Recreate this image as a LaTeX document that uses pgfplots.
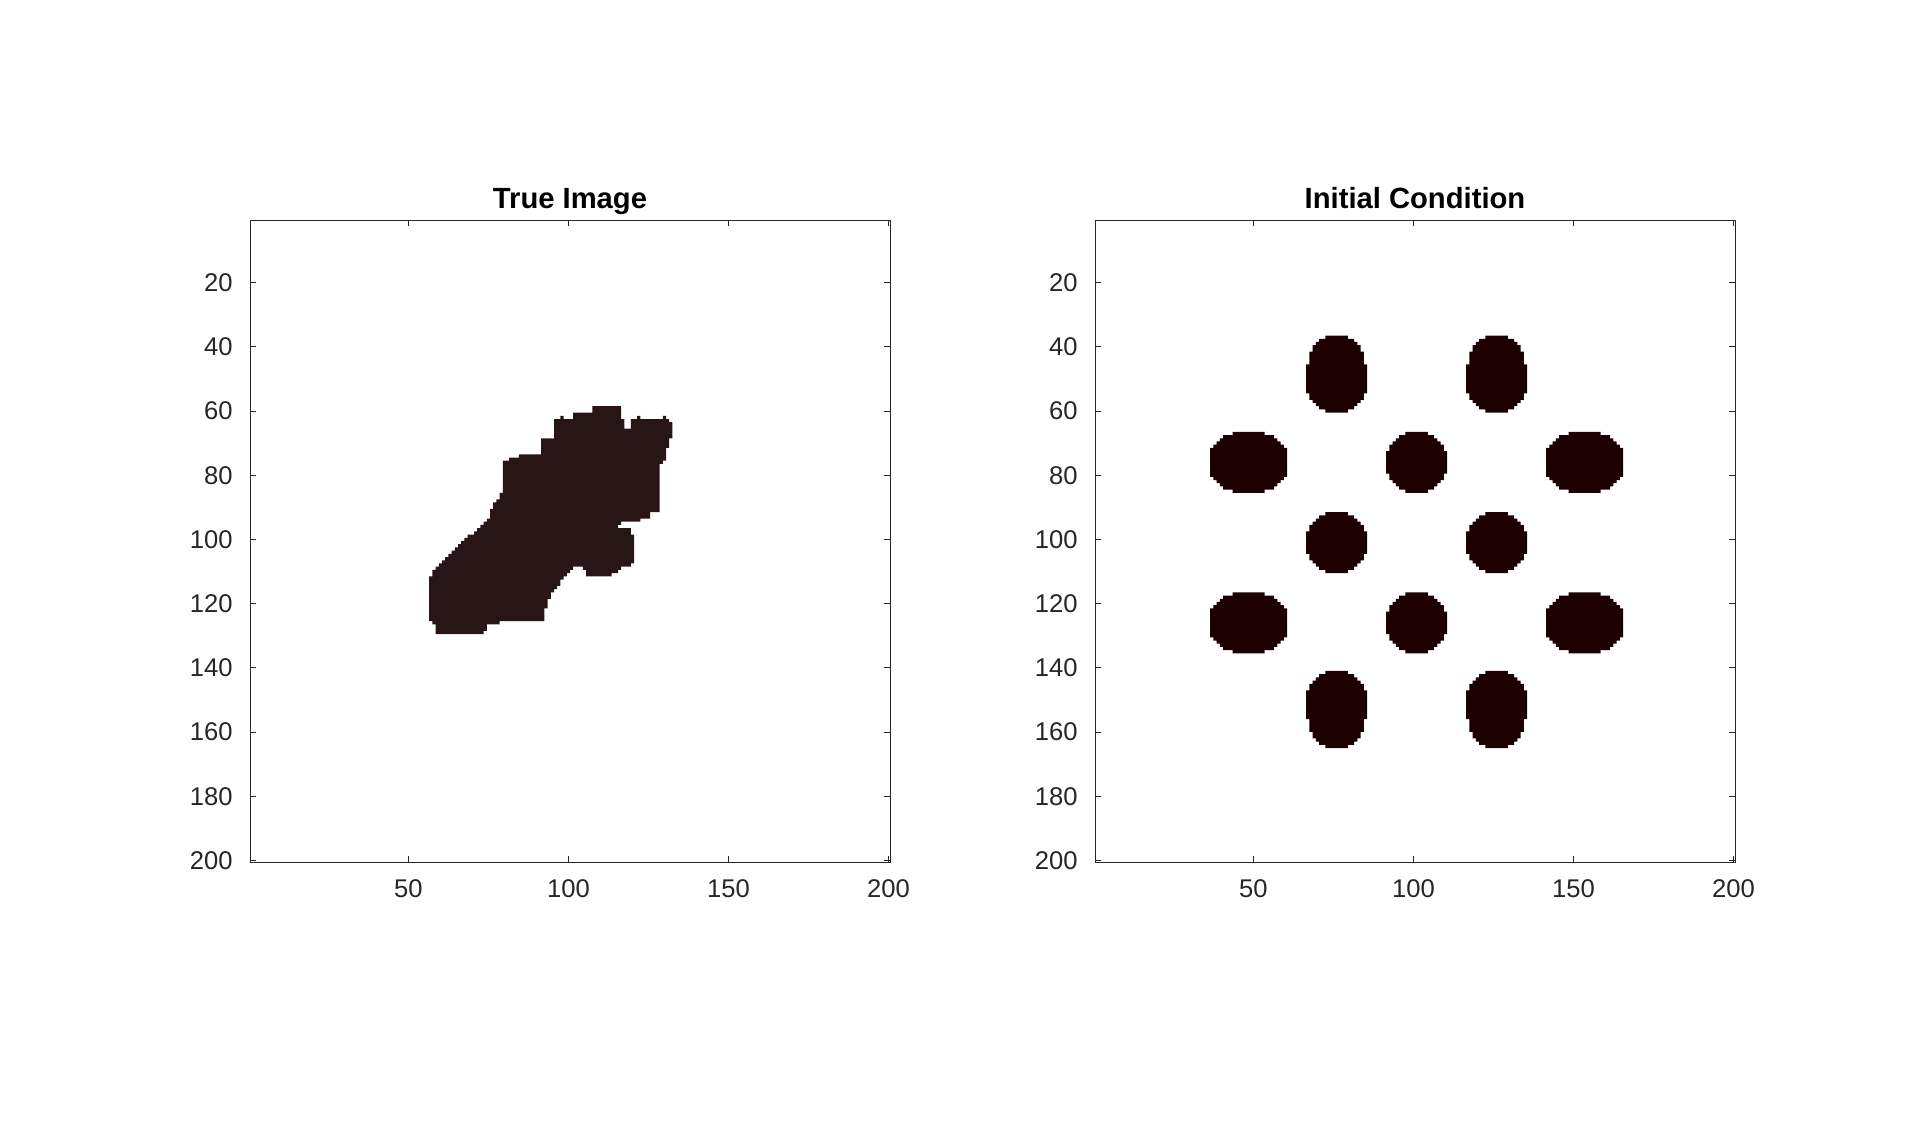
\documentclass[border=0pt]{standalone}
\usepackage{pgfplots}
\pgfplotsset{compat=1.18}
\usepackage{fontspec}
\setmainfont{Liberation Sans}
\definecolor{imgdark}{RGB}{29,0,0}
\definecolor{blobc}{RGB}{40,22,22}
\definecolor{axgray}{RGB}{38,38,38}
\pgfplotsset{imgax/.style={
  scale only axis, width=160pt, height=160.5pt,
  xmin=0.5, xmax=200.5, ymin=0.5, ymax=200.5, y dir=reverse,
  xtick={50,100,150,200}, ytick={20,40,...,200},
  tick align=inside, xtick pos=both, ytick pos=both,
  xticklabel pos=lower, yticklabel pos=left,
  major tick length=1.6pt,
  axis line style={axgray, line width=0.22pt},
  tick style={axgray, line width=0.22pt},
  ticklabel style={font=\fontsize{6.4}{7}\selectfont, text=axgray},
  xticklabel style={yshift=-0.9pt},
  yticklabel style={xshift=-0.8pt},
  /pgf/number format/assume math mode=true,
  title style={font=\bfseries\fontsize{7.3}{8}\selectfont, at={(0.5,1)}, anchor=base, yshift=-3.1pt},
}}
\begin{document}
\begin{tikzpicture}
\useasboundingbox (0,0) rectangle (480pt,280.75pt);
\begin{axis}[imgax, at={(62.5pt,65.25pt)}, anchor=south west, title={True Image}]
\addplot[fill=blobc, draw=none] coordinates {
(107.5,58.5)(116.5,58.5)(116.5,62.5)(117.5,62.5)(117.5,65.5)(119.5,65.5)(119.5,62.5)
(121.5,62.5)(121.5,61.5)(122.5,61.5)(122.5,62.5)(129.5,62.5)(129.5,61.5)(130.5,61.5)(130.5,62.5)
(131.5,62.5)(131.5,63.5)(132.5,63.5)(132.5,68.5)(131.5,68.5)(131.5,71.5)(130.5,71.5)(130.5,75.5)
(129.5,75.5)(129.5,76.5)(128.5,76.5)(128.5,91.5)(125.5,91.5)(125.5,93.5)(122.5,93.5)(122.5,94.5)
(116.5,94.5)(116.5,95.5)(115.5,95.5)(115.5,96.5)(119.5,96.5)(119.5,98.5)(120.5,98.5)(120.5,107.5)
(119.5,107.5)(119.5,108.5)(116.5,108.5)(116.5,109.5)(115.5,109.5)(115.5,110.5)(113.5,110.5)(113.5,111.5)
(105.5,111.5)(105.5,109.5)(104.5,109.5)(104.5,108.5)(101.5,108.5)(101.5,109.5)(100.5,109.5)(100.5,110.5)
(99.5,110.5)(99.5,111.5)(98.5,111.5)(98.5,112.5)(97.5,112.5)(97.5,114.5)(96.5,114.5)(96.5,115.5)
(95.5,115.5)(95.5,116.5)(94.5,116.5)(94.5,118.5)(93.5,118.5)(93.5,121.5)(92.5,121.5)(92.5,125.5)
(78.5,125.5)(78.5,126.5)(74.5,126.5)(74.5,128.5)(73.5,128.5)(73.5,129.5)(58.5,129.5)(58.5,126.5)
(57.5,126.5)(57.5,125.5)(56.5,125.5)(56.5,111.5)(57.5,111.5)(57.5,109.5)(58.5,109.5)(58.5,108.5)
(59.5,108.5)(59.5,107.5)(60.5,107.5)(60.5,106.5)(61.5,106.5)(61.5,105.5)(62.5,105.5)(62.5,104.5)
(63.5,104.5)(63.5,103.5)(64.5,103.5)(64.5,102.5)(65.5,102.5)(65.5,101.5)(66.5,101.5)(66.5,100.5)
(67.5,100.5)(67.5,99.5)(68.5,99.5)(68.5,98.5)(70.5,98.5)(70.5,97.5)(71.5,97.5)(71.5,96.5)
(72.5,96.5)(72.5,95.5)(73.5,95.5)(73.5,94.5)(74.5,94.5)(74.5,93.5)(75.5,93.5)(75.5,90.5)
(76.5,90.5)(76.5,88.5)(77.5,88.5)(77.5,87.5)(78.5,87.5)(78.5,85.5)(79.5,85.5)(79.5,75.5)
(81.5,75.5)(81.5,74.5)(84.5,74.5)(84.5,73.5)(91.5,73.5)(91.5,68.5)(95.5,68.5)(95.5,62.5)
(97.5,62.5)(97.5,61.5)(98.5,61.5)(98.5,62.5)(101.5,62.5)(101.5,60.5)(107.5,60.5)
} -- cycle;
\end{axis}
\begin{axis}[imgax, at={(273.75pt,65.25pt)}, anchor=south west, title={Initial Condition}]
% top eggs
\addplot[fill=imgdark, draw=none] coordinates {
(79.5,36.5)(79.5,37.5)(81.5,37.5)(81.5,38.5)(82.5,38.5)(82.5,39.5)(83.5,39.5)(83.5,41.5)(84.5,41.5)(84.5,45.5)(85.5,45.5)(85.5,54.5)(84.5,54.5)(84.5,56.5)(83.5,56.5)(83.5,57.5)(82.5,57.5)(82.5,58.5)(81.5,58.5)(81.5,59.5)(79.5,59.5)(79.5,60.5)(72.5,60.5)(72.5,59.5)(70.5,59.5)(70.5,58.5)(69.5,58.5)(69.5,57.5)(68.5,57.5)(68.5,56.5)(67.5,56.5)(67.5,54.5)(66.5,54.5)(66.5,45.5)(67.5,45.5)(67.5,41.5)(68.5,41.5)(68.5,39.5)(69.5,39.5)(69.5,38.5)(70.5,38.5)(70.5,37.5)(72.5,37.5)(72.5,36.5)
} -- cycle;
\addplot[fill=imgdark, draw=none] coordinates {
(129.5,36.5)(129.5,37.5)(131.5,37.5)(131.5,38.5)(132.5,38.5)(132.5,39.5)(133.5,39.5)(133.5,41.5)(134.5,41.5)(134.5,45.5)(135.5,45.5)(135.5,54.5)(134.5,54.5)(134.5,56.5)(133.5,56.5)(133.5,57.5)(132.5,57.5)(132.5,58.5)(131.5,58.5)(131.5,59.5)(129.5,59.5)(129.5,60.5)(122.5,60.5)(122.5,59.5)(120.5,59.5)(120.5,58.5)(119.5,58.5)(119.5,57.5)(118.5,57.5)(118.5,56.5)(117.5,56.5)(117.5,54.5)(116.5,54.5)(116.5,45.5)(117.5,45.5)(117.5,41.5)(118.5,41.5)(118.5,39.5)(119.5,39.5)(119.5,38.5)(120.5,38.5)(120.5,37.5)(122.5,37.5)(122.5,36.5)
} -- cycle;
% bottom eggs
\addplot[fill=imgdark, draw=none] coordinates {
(79.5,141)(79.5,142)(81.5,142)(81.5,143)(82.5,143)(82.5,144)(83.5,144)(83.5,145)(84.5,145)(84.5,147)(85.5,147)(85.5,156)(84.5,156)(84.5,160)(83.5,160)(83.5,162)(82.5,162)(82.5,163)(81.5,163)(81.5,164)(79.5,164)(79.5,165)(72.5,165)(72.5,164)(70.5,164)(70.5,163)(69.5,163)(69.5,162)(68.5,162)(68.5,160)(67.5,160)(67.5,156)(66.5,156)(66.5,147)(67.5,147)(67.5,145)(68.5,145)(68.5,144)(69.5,144)(69.5,143)(70.5,143)(70.5,142)(72.5,142)(72.5,141)
} -- cycle;
\addplot[fill=imgdark, draw=none] coordinates {
(129.5,141)(129.5,142)(131.5,142)(131.5,143)(132.5,143)(132.5,144)(133.5,144)(133.5,145)(134.5,145)(134.5,147)(135.5,147)(135.5,156)(134.5,156)(134.5,160)(133.5,160)(133.5,162)(132.5,162)(132.5,163)(131.5,163)(131.5,164)(129.5,164)(129.5,165)(122.5,165)(122.5,164)(120.5,164)(120.5,163)(119.5,163)(119.5,162)(118.5,162)(118.5,160)(117.5,160)(117.5,156)(116.5,156)(116.5,147)(117.5,147)(117.5,145)(118.5,145)(118.5,144)(119.5,144)(119.5,143)(120.5,143)(120.5,142)(122.5,142)(122.5,141)
} -- cycle;
% circles
\addplot[fill=imgdark, draw=none] coordinates {
(97.5,66.5)(104.5,66.5)(104.5,67.5)(106.5,67.5)(106.5,68.5)(107.5,68.5)(107.5,69.5)(108.5,69.5)(108.5,70.5)(109.5,70.5)(109.5,72.5)(110.5,72.5)(110.5,79.5)(109.5,79.5)(109.5,81.5)(108.5,81.5)(108.5,82.5)(107.5,82.5)(107.5,83.5)(106.5,83.5)(106.5,84.5)(104.5,84.5)(104.5,85.5)(97.5,85.5)(97.5,84.5)(95.5,84.5)(95.5,83.5)(94.5,83.5)(94.5,82.5)(93.5,82.5)(93.5,81.5)(92.5,81.5)(92.5,79.5)(91.5,79.5)(91.5,72.5)(92.5,72.5)(92.5,70.5)(93.5,70.5)(93.5,69.5)(94.5,69.5)(94.5,68.5)(95.5,68.5)(95.5,67.5)(97.5,67.5)
} -- cycle;
\addplot[fill=imgdark, draw=none] coordinates {
(97.5,116.5)(104.5,116.5)(104.5,117.5)(106.5,117.5)(106.5,118.5)(107.5,118.5)(107.5,119.5)(108.5,119.5)(108.5,120.5)(109.5,120.5)(109.5,122.5)(110.5,122.5)(110.5,129.5)(109.5,129.5)(109.5,131.5)(108.5,131.5)(108.5,132.5)(107.5,132.5)(107.5,133.5)(106.5,133.5)(106.5,134.5)(104.5,134.5)(104.5,135.5)(97.5,135.5)(97.5,134.5)(95.5,134.5)(95.5,133.5)(94.5,133.5)(94.5,132.5)(93.5,132.5)(93.5,131.5)(92.5,131.5)(92.5,129.5)(91.5,129.5)(91.5,122.5)(92.5,122.5)(92.5,120.5)(93.5,120.5)(93.5,119.5)(94.5,119.5)(94.5,118.5)(95.5,118.5)(95.5,117.5)(97.5,117.5)
} -- cycle;
\addplot[fill=imgdark, draw=none] coordinates {
(72.5,91.5)(79.5,91.5)(79.5,92.5)(81.5,92.5)(81.5,93.5)(82.5,93.5)(82.5,94.5)(83.5,94.5)(83.5,95.5)(84.5,95.5)(84.5,97.5)(85.5,97.5)(85.5,104.5)(84.5,104.5)(84.5,106.5)(83.5,106.5)(83.5,107.5)(82.5,107.5)(82.5,108.5)(81.5,108.5)(81.5,109.5)(79.5,109.5)(79.5,110.5)(72.5,110.5)(72.5,109.5)(70.5,109.5)(70.5,108.5)(69.5,108.5)(69.5,107.5)(68.5,107.5)(68.5,106.5)(67.5,106.5)(67.5,104.5)(66.5,104.5)(66.5,97.5)(67.5,97.5)(67.5,95.5)(68.5,95.5)(68.5,94.5)(69.5,94.5)(69.5,93.5)(70.5,93.5)(70.5,92.5)(72.5,92.5)
} -- cycle;
\addplot[fill=imgdark, draw=none] coordinates {
(122.5,91.5)(129.5,91.5)(129.5,92.5)(131.5,92.5)(131.5,93.5)(132.5,93.5)(132.5,94.5)(133.5,94.5)(133.5,95.5)(134.5,95.5)(134.5,97.5)(135.5,97.5)(135.5,104.5)(134.5,104.5)(134.5,106.5)(133.5,106.5)(133.5,107.5)(132.5,107.5)(132.5,108.5)(131.5,108.5)(131.5,109.5)(129.5,109.5)(129.5,110.5)(122.5,110.5)(122.5,109.5)(120.5,109.5)(120.5,108.5)(119.5,108.5)(119.5,107.5)(118.5,107.5)(118.5,106.5)(117.5,106.5)(117.5,104.5)(116.5,104.5)(116.5,97.5)(117.5,97.5)(117.5,95.5)(118.5,95.5)(118.5,94.5)(119.5,94.5)(119.5,93.5)(120.5,93.5)(120.5,92.5)(122.5,92.5)
} -- cycle;
% horizontal ellipses
\addplot[fill=imgdark, draw=none] coordinates {
(53.5,66.5)(53.5,67.5)(56.5,67.5)(56.5,68.5)(57.5,68.5)(57.5,69.5)(58.5,69.5)(58.5,70.5)(59.5,70.5)(59.5,71.5)(60.5,71.5)(60.5,80.5)(59.5,80.5)(59.5,81.5)(58.5,81.5)(58.5,82.5)(57.5,82.5)(57.5,83.5)(56.5,83.5)(56.5,84.5)(53.5,84.5)(53.5,85.5)(43.5,85.5)(43.5,84.5)(40.5,84.5)(40.5,83.5)(39.5,83.5)(39.5,82.5)(38.5,82.5)(38.5,81.5)(37.5,81.5)(37.5,80.5)(36.5,80.5)(36.5,71.5)(37.5,71.5)(37.5,70.5)(38.5,70.5)(38.5,69.5)(39.5,69.5)(39.5,68.5)(40.5,68.5)(40.5,67.5)(43.5,67.5)(43.5,66.5)
} -- cycle;
\addplot[fill=imgdark, draw=none] coordinates {
(158.5,66.5)(158.5,67.5)(161.5,67.5)(161.5,68.5)(162.5,68.5)(162.5,69.5)(163.5,69.5)(163.5,70.5)(164.5,70.5)(164.5,71.5)(165.5,71.5)(165.5,80.5)(164.5,80.5)(164.5,81.5)(163.5,81.5)(163.5,82.5)(162.5,82.5)(162.5,83.5)(161.5,83.5)(161.5,84.5)(158.5,84.5)(158.5,85.5)(148.5,85.5)(148.5,84.5)(145.5,84.5)(145.5,83.5)(144.5,83.5)(144.5,82.5)(143.5,82.5)(143.5,81.5)(142.5,81.5)(142.5,80.5)(141.5,80.5)(141.5,71.5)(142.5,71.5)(142.5,70.5)(143.5,70.5)(143.5,69.5)(144.5,69.5)(144.5,68.5)(145.5,68.5)(145.5,67.5)(148.5,67.5)(148.5,66.5)
} -- cycle;
\addplot[fill=imgdark, draw=none] coordinates {
(53.5,116.5)(53.5,117.5)(56.5,117.5)(56.5,118.5)(57.5,118.5)(57.5,119.5)(58.5,119.5)(58.5,120.5)(59.5,120.5)(59.5,121.5)(60.5,121.5)(60.5,130.5)(59.5,130.5)(59.5,131.5)(58.5,131.5)(58.5,132.5)(57.5,132.5)(57.5,133.5)(56.5,133.5)(56.5,134.5)(53.5,134.5)(53.5,135.5)(43.5,135.5)(43.5,134.5)(40.5,134.5)(40.5,133.5)(39.5,133.5)(39.5,132.5)(38.5,132.5)(38.5,131.5)(37.5,131.5)(37.5,130.5)(36.5,130.5)(36.5,121.5)(37.5,121.5)(37.5,120.5)(38.5,120.5)(38.5,119.5)(39.5,119.5)(39.5,118.5)(40.5,118.5)(40.5,117.5)(43.5,117.5)(43.5,116.5)
} -- cycle;
\addplot[fill=imgdark, draw=none] coordinates {
(158.5,116.5)(158.5,117.5)(161.5,117.5)(161.5,118.5)(162.5,118.5)(162.5,119.5)(163.5,119.5)(163.5,120.5)(164.5,120.5)(164.5,121.5)(165.5,121.5)(165.5,130.5)(164.5,130.5)(164.5,131.5)(163.5,131.5)(163.5,132.5)(162.5,132.5)(162.5,133.5)(161.5,133.5)(161.5,134.5)(158.5,134.5)(158.5,135.5)(148.5,135.5)(148.5,134.5)(145.5,134.5)(145.5,133.5)(144.5,133.5)(144.5,132.5)(143.5,132.5)(143.5,131.5)(142.5,131.5)(142.5,130.5)(141.5,130.5)(141.5,121.5)(142.5,121.5)(142.5,120.5)(143.5,120.5)(143.5,119.5)(144.5,119.5)(144.5,118.5)(145.5,118.5)(145.5,117.5)(148.5,117.5)(148.5,116.5)
} -- cycle;
\end{axis}
\end{tikzpicture}
\end{document}
